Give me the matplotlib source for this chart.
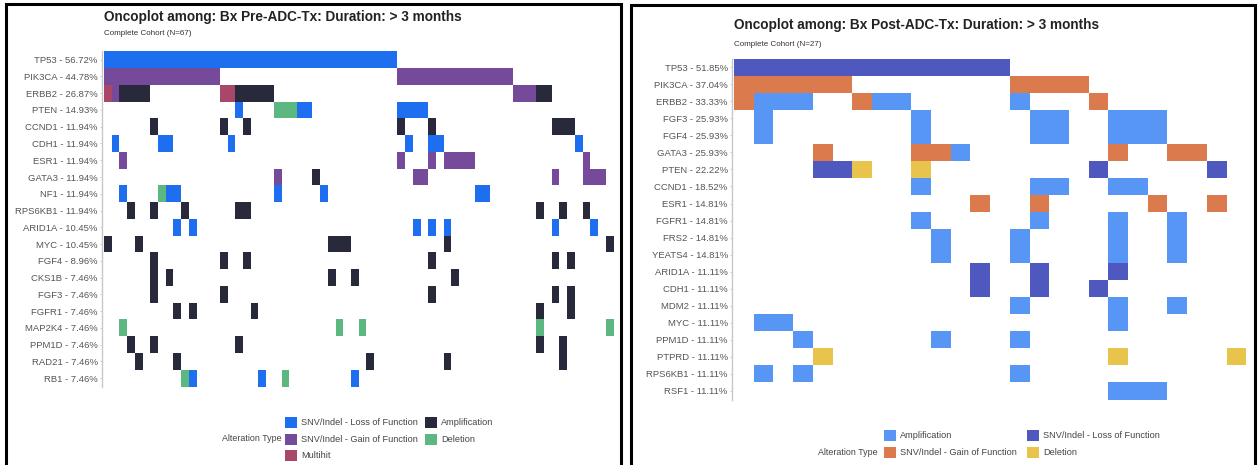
import matplotlib.pyplot as plt
from matplotlib.patches import Rectangle

plt.rcParams['font.family'] = ['Liberation Sans', 'DejaVu Sans']

W, H = 1258, 465  # figure size in pixels (dpi 100)

# ---------------- data ----------------
# alteration codes: L = SNV/Indel loss, G = SNV/Indel gain, A = amplification,
# D = deletion, M = multihit.  Each gene: list of (first sample, last sample, code)
pre_genes = ['TP53', 'PIK3CA', 'ERBB2', 'PTEN', 'CCND1', 'CDH1', 'ESR1', 'GATA3', 'NF1',
             'RPS6KB1', 'ARID1A', 'MYC', 'FGF4', 'CKS1B', 'FGF3', 'FGFR1', 'MAP2K4',
             'PPM1D', 'RAD21', 'RB1']
pre_pct = [56.72, 44.78, 26.87, 14.93, 11.94, 11.94, 11.94, 11.94, 11.94, 11.94, 10.45,
           10.45, 8.96, 7.46, 7.46, 7.46, 7.46, 7.46, 7.46, 7.46]
pre_alts = [
    [(0, 37, 'L')],
    [(0, 14, 'G'), (38, 52, 'G')],
    [(0, 0, 'M'), (1, 1, 'G'), (2, 5, 'A'), (15, 16, 'M'), (17, 21, 'A'), (53, 55, 'G'), (56, 57, 'A')],
    [(17, 17, 'L'), (22, 24, 'D'), (25, 26, 'L'), (38, 41, 'L')],
    [(6, 6, 'A'), (15, 15, 'A'), (18, 18, 'A'), (38, 38, 'A'), (42, 42, 'A'), (58, 60, 'A')],
    [(1, 1, 'L'), (7, 8, 'L'), (16, 16, 'L'), (39, 39, 'L'), (42, 43, 'L'), (61, 61, 'L')],
    [(2, 2, 'G'), (38, 38, 'G'), (42, 42, 'G'), (44, 47, 'G'), (62, 62, 'G')],
    [(22, 22, 'G'), (27, 27, 'A'), (40, 41, 'G'), (58, 58, 'G'), (62, 64, 'G')],
    [(2, 2, 'L'), (7, 7, 'D'), (8, 9, 'L'), (22, 22, 'L'), (28, 28, 'L'), (48, 49, 'L')],
    [(3, 3, 'A'), (6, 6, 'A'), (10, 10, 'A'), (17, 18, 'A'), (56, 56, 'A'), (59, 59, 'A'), (62, 62, 'A')],
    [(9, 9, 'L'), (11, 11, 'L'), (40, 40, 'L'), (42, 42, 'L'), (44, 44, 'L'), (58, 58, 'L'), (63, 63, 'L')],
    [(0, 0, 'A'), (4, 4, 'A'), (29, 31, 'A'), (44, 44, 'A'), (65, 65, 'A')],
    [(6, 6, 'A'), (15, 15, 'A'), (18, 18, 'A'), (42, 42, 'A'), (58, 58, 'A'), (60, 60, 'A')],
    [(6, 6, 'A'), (8, 8, 'A'), (29, 29, 'A'), (32, 32, 'A'), (45, 45, 'A')],
    [(6, 6, 'A'), (15, 15, 'A'), (42, 42, 'A'), (58, 58, 'A'), (60, 60, 'A')],
    [(9, 9, 'A'), (11, 11, 'A'), (19, 19, 'A'), (56, 56, 'A'), (60, 60, 'A')],
    [(2, 2, 'D'), (30, 30, 'D'), (33, 33, 'D'), (56, 56, 'D'), (65, 65, 'D')],
    [(3, 3, 'A'), (6, 6, 'A'), (17, 17, 'A'), (56, 56, 'A'), (59, 59, 'A')],
    [(4, 4, 'A'), (9, 9, 'A'), (34, 34, 'A'), (44, 44, 'A'), (59, 59, 'A')],
    [(10, 10, 'D'), (11, 11, 'L'), (20, 20, 'L'), (23, 23, 'D'), (32, 32, 'L')],
]
pre_n_samples = 66

post_genes = ['TP53', 'PIK3CA', 'ERBB2', 'FGF3', 'FGF4', 'GATA3', 'PTEN', 'CCND1', 'ESR1',
              'FGFR1', 'FRS2', 'YEATS4', 'ARID1A', 'CDH1', 'MDM2', 'MYC', 'PPM1D', 'PTPRD',
              'RPS6KB1', 'RSF1']
post_pct = [51.85, 37.04, 33.33, 25.93, 25.93, 25.93, 22.22, 18.52, 14.81, 14.81, 14.81,
            14.81, 11.11, 11.11, 11.11, 11.11, 11.11, 11.11, 11.11, 11.11]
post_alts = [
    [(0, 13, 'L')],
    [(0, 5, 'G'), (14, 17, 'G')],
    [(0, 0, 'G'), (1, 3, 'A'), (6, 6, 'G'), (7, 8, 'A'), (14, 14, 'A'), (18, 18, 'G')],
    [(1, 1, 'A'), (9, 9, 'A'), (15, 16, 'A'), (19, 21, 'A')],
    [(1, 1, 'A'), (9, 9, 'A'), (15, 16, 'A'), (19, 21, 'A')],
    [(4, 4, 'G'), (9, 10, 'G'), (11, 11, 'A'), (19, 19, 'G'), (22, 23, 'G')],
    [(4, 5, 'L'), (6, 6, 'D'), (9, 9, 'D'), (18, 18, 'L'), (24, 24, 'L')],
    [(9, 9, 'A'), (15, 16, 'A'), (19, 20, 'A')],
    [(12, 12, 'G'), (15, 15, 'G'), (21, 21, 'G'), (24, 24, 'G')],
    [(9, 9, 'A'), (15, 15, 'A'), (19, 19, 'A'), (22, 22, 'A')],
    [(10, 10, 'A'), (14, 14, 'A'), (19, 19, 'A'), (22, 22, 'A')],
    [(10, 10, 'A'), (14, 14, 'A'), (19, 19, 'A'), (22, 22, 'A')],
    [(12, 12, 'L'), (15, 15, 'L'), (19, 19, 'L')],
    [(12, 12, 'L'), (15, 15, 'L'), (18, 18, 'L')],
    [(14, 14, 'A'), (19, 19, 'A'), (22, 22, 'A')],
    [(1, 2, 'A'), (19, 19, 'A')],
    [(3, 3, 'A'), (10, 10, 'A'), (14, 14, 'A')],
    [(4, 4, 'D'), (19, 19, 'D'), (25, 25, 'D')],
    [(1, 1, 'A'), (3, 3, 'A'), (14, 14, 'A')],
    [(19, 21, 'A')],
]
post_n_samples = 26

pre_colors = {'L': '#1e6ff0', 'G': '#764a9a', 'A': '#282a3c', 'D': '#5cb880', 'M': '#a8476a'}
post_colors = {'L': '#4f58bf', 'G': '#db7a4c', 'A': '#5896f6', 'D': '#e9c44c'}
type_names = {'L': 'SNV/Indel - Loss of Function', 'G': 'SNV/Indel - Gain of Function',
              'A': 'Amplification', 'D': 'Deletion', 'M': 'Multihit'}
pre_legend_order = ['L', 'G', 'M', 'A', 'D']
post_legend_order = ['A', 'G', 'L', 'D']


def px_axes(fig, x0, y0, x1, y1):
    return fig.add_axes([x0 / W, 1 - y1 / H, (x1 - x0) / W, (y1 - y0) / H])


def oncoplot(ax, genes, pct, alts, colors, n_samples):
    for row, runs in enumerate(alts):
        for first, last, code in runs:
            ax.barh(row, last - first + 1, left=first, height=1, align='edge',
                    color=colors[code], linewidth=0)
    ax.set_xlim(0, n_samples)
    ax.set_ylim(len(genes), 0)
    ax.set_yticks([i + 0.5 for i in range(len(genes))])
    ax.set_yticklabels([f'{g} - {p:.2f}%' for g, p in zip(genes, pct)])
    ax.set_xticks([])
    for s in ['top', 'right', 'bottom']:
        ax.spines[s].set_visible(False)
    ax.spines['left'].set_color('#c8c8c8')
    ax.spines['left'].set_linewidth(1.0)
    ax.spines['left'].set_position(('outward', 1.5))
    ax.tick_params(axis='y', length=1.8, width=0.6, color='#c8c8c8', pad=1.2,
                   labelsize=6.8, labelcolor='#555555')


def legend(fig, colors, order, label_xy, col_x, row_y):
    fig.text(label_xy[0] / W, 1 - label_xy[1] / H, 'Alteration Type', ha='right',
             va='center', fontsize=6.4, color='#444444')
    nrows = len(row_y)
    for i, code in enumerate(order):
        cx = col_x[i // nrows]
        cy = row_y[i % nrows]
        fig.add_artist(Rectangle((cx / W, 1 - (cy + 5.5) / H), 11.5 / W, 11 / H,
                                 transform=fig.transFigure, color=colors[code], lw=0))
        fig.text((cx + 16) / W, 1 - cy / H, type_names[code], ha='left', va='center',
                 fontsize=6.6, color='#444444')


fig = plt.figure(figsize=(W / 100, H / 100), dpi=100)

# panel frames
fig.add_artist(Rectangle((6 / W, -0.05), (621 - 6) / W, 1.05 - 4.5 / H,
                         transform=fig.transFigure, fill=False, ec='black', lw=2.2))
fig.add_artist(Rectangle((631 / W, -0.05), (1255 - 631) / W, 1.05 - 5.5 / H,
                         transform=fig.transFigure, fill=False, ec='black', lw=2.2))

ax1 = px_axes(fig, 104, 51.3, 104 + pre_n_samples * 7.72, 386.5)
oncoplot(ax1, pre_genes, pre_pct, pre_alts, pre_colors, pre_n_samples)
fig.text(104 / W, 1 - 17 / H, 'Oncoplot among: Bx Pre-ADC-Tx: Duration: > 3 months',
         fontsize=9.8, fontweight='bold', color='#222222', va='center')
fig.text(104 / W, 1 - 33.5 / H, 'Complete Cohort (N=67)', fontsize=5.8, color='#333333',
         va='center')
legend(fig, pre_colors, pre_legend_order, (282, 438.5), [285, 425], [422.5, 439, 455.5])

ax2 = px_axes(fig, 734, 58.7, 734 + post_n_samples * 19.7, 399.5)
oncoplot(ax2, post_genes, post_pct, post_alts, post_colors, post_n_samples)
fig.text(734 / W, 1 - 25 / H, 'Oncoplot among: Bx Post-ADC-Tx: Duration: > 3 months',
         fontsize=9.8, fontweight='bold', color='#222222', va='center')
fig.text(734 / W, 1 - 44 / H, 'Complete Cohort (N=27)', fontsize=5.8, color='#333333',
         va='center')
legend(fig, post_colors, post_legend_order, (878, 452), [884, 1027], [435.5, 452])

fig.savefig('out.png', dpi=100)
